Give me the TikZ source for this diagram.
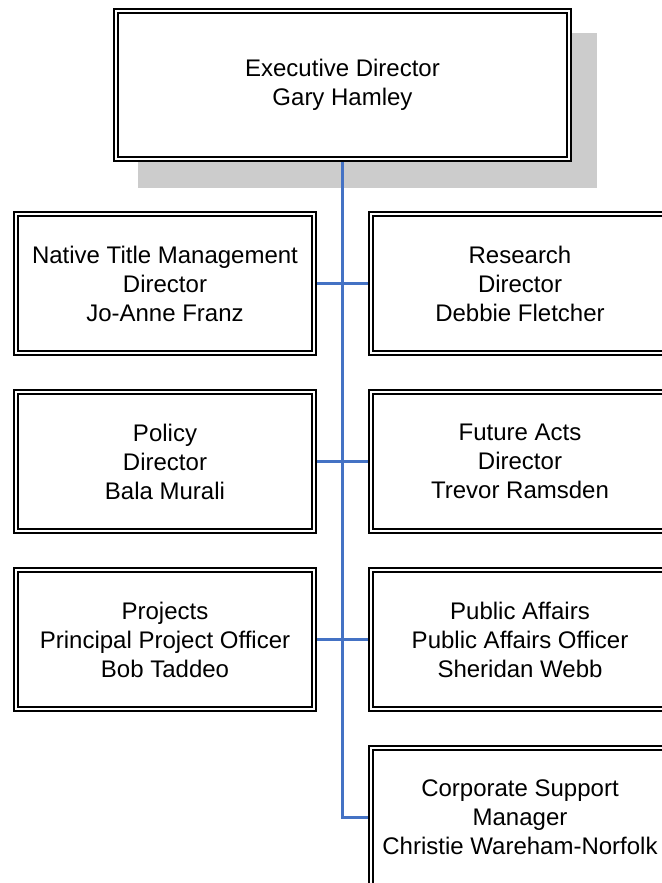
\documentclass[tikz,border=0pt]{standalone}
\usepackage{fontspec}
\setmainfont{Liberation Sans}
\usetikzlibrary{positioning,backgrounds}
\definecolor{linkblue}{HTML}{4472C4}
\definecolor{shadowgray}{HTML}{CCCCCC}

\begin{document}
\begin{tikzpicture}[
  x=0.5pt, y=-0.5pt,
  node distance=16.5pt and 25.5pt,
  unit/.style={draw, double, double distance=1pt, line width=1pt, fill=white, align=center, inner sep=1pt, outer sep=1.5pt, minimum width=149pt, minimum height=69.5pt, font=\fontsize{12}{14.5}\selectfont},
  link/.style={draw=linkblue, line width=1.1pt}
]
\useasboundingbox (0,0) rectangle (662,883);

\node[unit, minimum width=226.5pt, minimum height=74pt] (exec) at (342.5,85) {Executive Director\\Gary Hamley};

% Left column
\node[unit] (nativetitle) at (165,283.5) {Native Title Management\\Director\\Jo-Anne Franz};
\node[unit, below=of nativetitle] (policy) {Policy\\Director\\Bala Murali};
\node[unit, below=of policy] (projects) {Projects\\Principal Project Officer\\Bob Taddeo};

% Right column
\node[unit, right=of nativetitle] (research) {Research\\Director\\Debbie Fletcher};
\node[unit, below=of research] (futureacts) {Future Acts\\Director\\Trevor Ramsden};
\node[unit, below=of futureacts] (publicaffairs) {Public Affairs\\Public Affairs Officer\\Sheridan Webb};
\node[unit, below=of publicaffairs] (corporate) {Corporate Support\\Manager\\Christie Wareham-Norfolk};

% Shadow behind the top box
\begin{scope}[on background layer]
  \fill[shadowgray] ([shift={(25,25)}]exec.north west) rectangle ([shift={(25,26)}]exec.south east);
\end{scope}

% Reporting lines
\draw[link] (exec.south) |- (corporate.west);
\draw[link] (nativetitle) -- (research);
\draw[link] (policy) -- (futureacts);
\draw[link] (projects) -- (publicaffairs);
\end{tikzpicture}
\end{document}
